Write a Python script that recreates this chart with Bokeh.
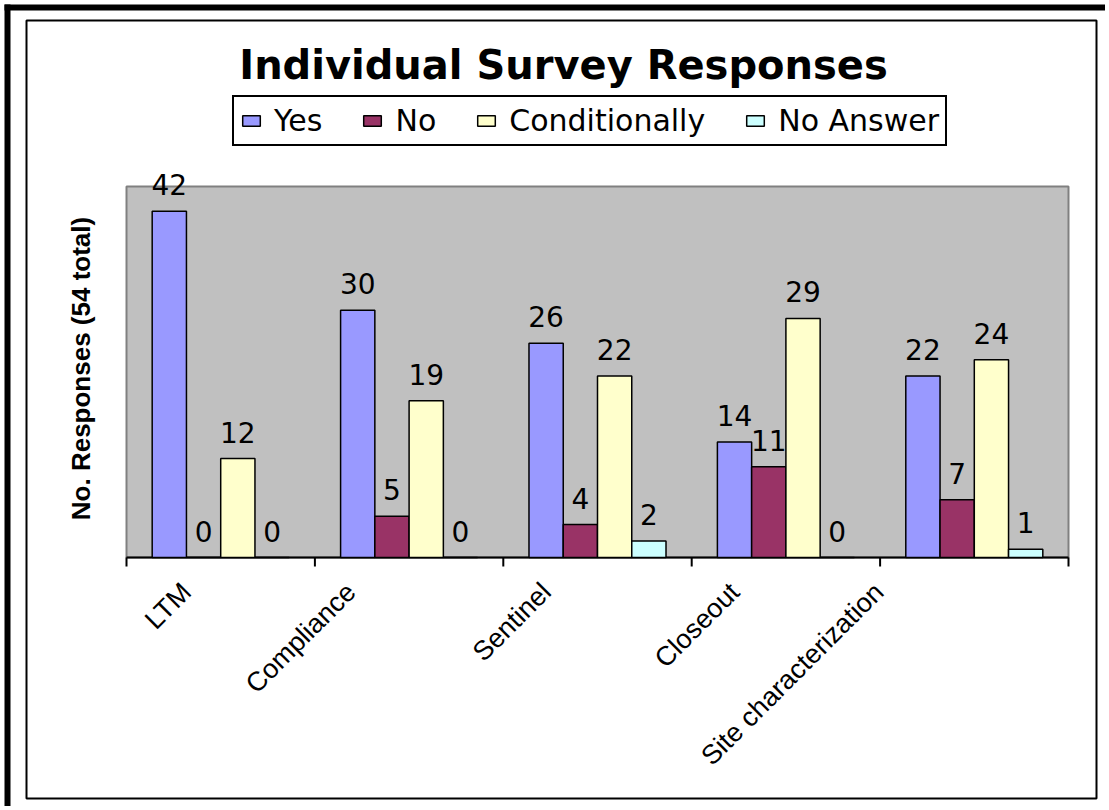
import math
from bokeh.plotting import figure
from bokeh.models import (ColumnDataSource, Range1d, Legend, LegendItem, LabelSet, Label)
from bokeh.core.properties import value
from bokeh.embed import file_html
from bokeh.resources import INLINE

# ---- data ----
categories = ["LTM", "Compliance", "Sentinel", "Closeout", "Site characterization"]
yes = [42, 30, 26, 14, 22]
no = [0, 5, 4, 11, 7]
conditionally = [12, 19, 22, 29, 24]
no_answer = [0, 0, 2, 0, 1]
series_names = ["Yes", "No", "Conditionally", "No Answer"]
title_text = "Individual Survey Responses"
y_label_text = "No. Responses (54 total)"
y_max = 45

# ---- layout (canvas pixels) ----
colors = ["#9999FF", "#993366", "#FFFFCC", "#CCFFFF"]
W, H = 1105, 806
FL, FR, FT, FB = 126, 1068, 186, 557        # grey plot area edges
n_cat = len(categories)
slot = (FR - FL) / n_cat


def ux(px):   # canvas px -> category-slot units
    return (px - FL) / slot


def vy(py):   # canvas px -> value units
    return (FB - py) / (FB - FT) * y_max


p = figure(width=W, height=H, x_range=Range1d(ux(0), ux(W)), y_range=Range1d(vy(H), vy(0)),
           output_backend="svg", toolbar_location=None, min_border=0,
           x_axis_location=None, y_axis_location=None)
p.title.visible = False
p.outline_line_color = None
p.grid.visible = False
p.background_fill_color = "white"
p.border_fill_color = "white"

# outer frames
p.quad(left=[ux(4)], right=[ux(W + 20)], top=[vy(4)], bottom=[vy(10)],
       fill_color="black", line_color=None)
p.quad(left=[ux(4)], right=[ux(10)], top=[vy(4)], bottom=[vy(H + 20)],
       fill_color="black", line_color=None)
p.quad(left=[ux(26)], right=[ux(1096)], top=[vy(20)], bottom=[vy(798)],
       fill_color=None, line_color="black", line_width=2)

# grey plot area, axis line and boundary ticks
p.quad(left=[0], right=[n_cat], bottom=[0], top=[y_max],
       fill_color="#C0C0C0", line_color="#808080", line_width=2)
bounds = list(range(n_cat + 1))
p.segment(x0=[0], y0=[0], x1=[n_cat], y1=[0], line_color="black", line_width=2)
p.segment(x0=bounds, y0=[0] * len(bounds), x1=bounds, y1=[vy(FB + 9)] * len(bounds),
          line_color="black", line_width=2)

# bars + value labels
keys = ["yes", "no", "cond", "na"]
series = [yes, no, conditionally, no_answer]
bar_w = 1 / 5.5
renderers = []
for i, (k, vals, col) in enumerate(zip(keys, series, colors)):
    off = (i - 1.5) * bar_w
    src = ColumnDataSource(dict(x=[c + 0.5 + off for c in range(n_cat)], top=vals,
                                txt=[str(v) for v in vals]))
    r = p.vbar(x="x", top="top", width=bar_w, source=src,
               fill_color=col, line_color="black", line_width=1.5)
    renderers.append(r)
    p.add_layout(LabelSet(x="x", y="top", text="txt", source=src,
                          text_align="center", text_baseline="alphabetic",
                          y_offset=16, text_font=value("DejaVu Sans"),
                          text_font_size="28px", text_color="black"))

# rotated category labels
narrow = "'Liberation Sans Narrow', 'Liberation Sans'"
cat_src = ColumnDataSource(dict(x=[c + 0.5 for c in range(n_cat)], y0=[0] * n_cat,
                                cat=categories,
                                xo=[-(24 + 3.4 * len(c)) for c in categories]))
p.add_layout(LabelSet(x="x", y="y0", text="cat", source=cat_src, angle=math.pi / 4,
                      x_offset="xo", y_offset=-30, text_align="right", text_baseline="middle",
                      text_font=value(narrow), text_font_size="27px", text_color="black"))

# legend
legend = Legend(items=[LegendItem(label=n, renderers=[r]) for n, r in zip(series_names, renderers)],
                orientation="horizontal", location=(232, H - 146),
                border_line_color="black", border_line_width=2.5, border_line_alpha=1,
                background_fill_color="white", background_fill_alpha=1,
                label_text_font="DejaVu Sans", label_text_font_size="30px",
                label_text_color="black",
                glyph_width=22, glyph_height=13, label_standoff=12, spacing=39,
                padding=6, margin=0)
p.add_layout(legend)

# title and y label
p.add_layout(Label(x=ux(563), y=vy(64), text=title_text,
                   text_align="center", text_baseline="alphabetic", text_color="black",
                   text_font="DejaVu Sans", text_font_style="bold", text_font_size="40px"))
p.add_layout(Label(x=ux(80), y=vy(368), text=y_label_text,
                   angle=math.pi / 2, text_align="center", text_baseline="middle",
                   text_color="black", text_font=narrow, text_font_style="bold",
                   text_font_size="26px"))

open("out.html", "w").write(file_html(p, INLINE))
